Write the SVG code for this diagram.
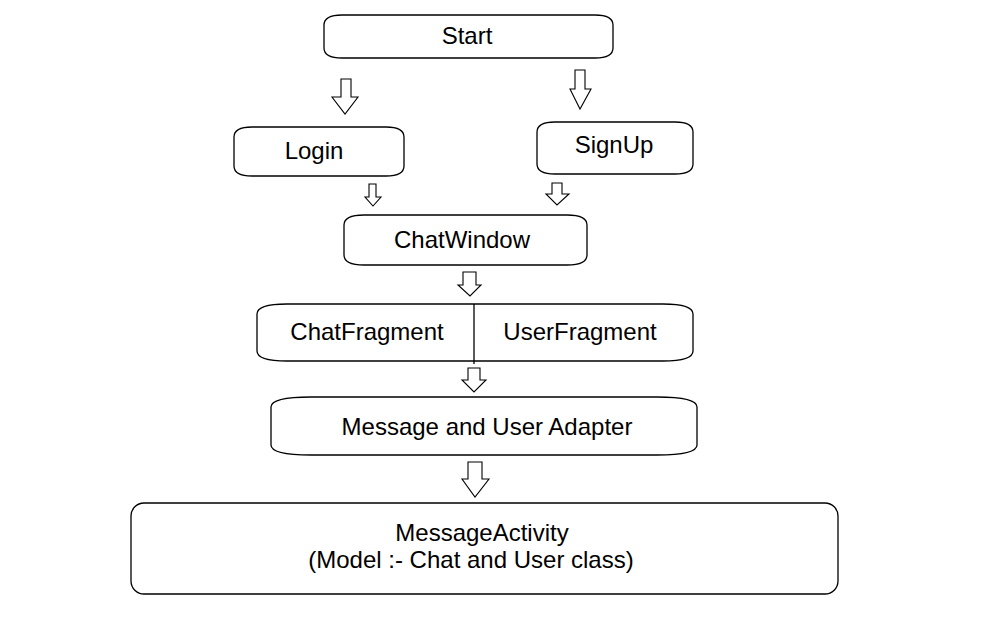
<svg xmlns="http://www.w3.org/2000/svg" width="985" height="623" viewBox="0 0 985 623">
<style>
.box{fill:#fff;stroke:#000;stroke-width:1.3}
.arr{fill:#fff;stroke:#000;stroke-width:1.1;stroke-linejoin:miter}
.t{font-family:"Liberation Sans",Arial,sans-serif;font-size:24px;fill:#000;text-anchor:middle}
</style>
<rect width="985" height="623" fill="#fff"/>
<g id="start">
<path class="box" d="M342,15 L595,15 Q613,15 613,25 L613,48 Q613,58 595,58 L342,58 Q324,58 324,48 L324,25 Q324,15 342,15 Z"/>
<text class="t" x="467" y="44">Start</text>
</g>
<g id="login">
<path class="box" d="M252,127 L386,127 Q404,127 404,137 L404,166 Q404,176 386,176 L252,176 Q234,176 234,166 L234,137 Q234,127 252,127 Z"/>
<text class="t" x="314" y="159">Login</text>
</g>
<g id="signup">
<path class="box" d="M555,122 L675,122 Q693,122 693,132 L693,164 Q693,174 675,174 L555,174 Q537,174 537,164 L537,132 Q537,122 555,122 Z"/>
<text class="t" x="614" y="153">SignUp</text>
</g>
<g id="chatwindow">
<path class="box" d="M364,215 L567,215 Q587,215 587,225 L587,255 Q587,265 567,265 L364,265 Q344,265 344,255 L344,225 Q344,215 364,215 Z"/>
<text class="t" x="462" y="248">ChatWindow</text>
</g>
<g id="fragments">
<path class="box" d="M287,304 L663,304 Q693,304 693,314 L693,351 Q693,361 663,361 L287,361 Q257,361 257,351 L257,314 Q257,304 287,304 Z"/>
<line x1="474" y1="304" x2="474" y2="364" stroke="#000" stroke-width="1.3"/>
<text class="t" x="367" y="340">ChatFragment</text>
<text class="t" x="580" y="340">UserFragment</text>
</g>
<g id="adapter">
<path class="box" d="M311,397 L657,397 Q697,397 697,407 L697,445 Q697,455 657,455 L311,455 Q271,455 271,445 L271,407 Q271,397 311,397 Z"/>
<text class="t" x="487" y="435">Message and User Adapter</text>
</g>
<g id="messageactivity">
<rect class="box" x="131" y="503" width="707" height="91" rx="13" ry="13"/>
<text class="t" x="482" y="541">MessageActivity</text>
<text class="t" x="471" y="568">(Model :- Chat and User class)</text>
</g>
<g id="connectors">
<polygon class="arr" points="341,79 351,79 351,97 358,97 345,114 332,97 341,97"/>
<polygon class="arr" points="575,70 585,70 585,89 591,89 580,109 570,89 575,89"/>
<polygon class="arr" points="369,184 376,184 376,197 381,197 373,206 365,197 369,197"/>
<polygon class="arr" points="552,183 562,183 562,194 569,194 557,205 546,194 552,194"/>
<polygon class="arr" points="463,272 476,272 476,285 481,285 470,296 458,285 463,285"/>
<polygon class="arr" points="468,368 480,368 480,380 486,380 474,392 462,380 468,380"/>
<polygon class="arr" points="468,462 482,462 482,479 489,479 475,497 462,479 468,479"/>
</g>
</svg>
